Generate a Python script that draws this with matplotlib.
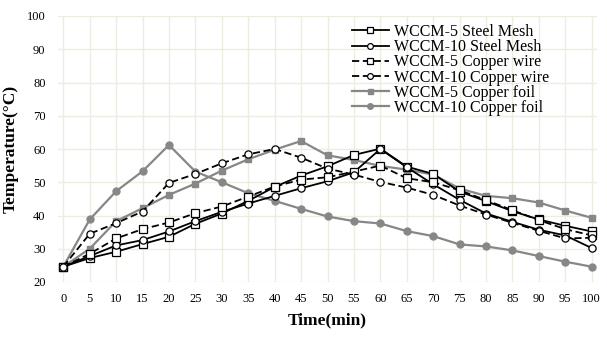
import numpy as np
import matplotlib
matplotlib.use("Agg")
import matplotlib.pyplot as plt

plt.rcParams.update({
    'font.family': 'serif',
    'font.serif': ['Liberation Serif', 'DejaVu Serif'],
    'mathtext.fontset': 'stix',
})

# ---------------- data ----------------
time_min = [0, 5, 10, 15, 20, 25, 30, 35, 40, 45, 50,
            55, 60, 65, 70, 75, 80, 85, 90, 95, 100]

steel_5 = [24.6, 27.2, 29.1, 31.4, 33.6, 37.5, 40.6, 44.4, 48.6, 52.0, 54.8,
           58.2, 60.1, 54.7, 52.5, 47.2, 44.3, 41.3, 38.8, 36.9, 35.2]
steel_10 = [24.6, 27.8, 31.0, 32.6, 35.2, 38.3, 41.1, 43.6, 45.9, 48.2, 50.3,
            53.0, 60.0, 54.5, 49.4, 44.7, 40.6, 38.1, 35.7, 34.0, 30.2]
wire_5 = [24.6, 28.5, 33.1, 35.9, 37.9, 40.7, 42.7, 45.7, 48.7, 50.8, 51.5,
          53.2, 55.0, 51.2, 50.0, 47.6, 44.6, 41.6, 38.6, 35.9, 34.0]
wire_10 = [24.6, 34.5, 37.7, 41.2, 49.8, 52.5, 55.7, 58.4, 60.0, 57.4, 54.1,
           52.3, 50.1, 48.4, 46.2, 43.0, 40.3, 37.8, 35.4, 33.1, 33.3]
foil_5 = [24.6, 30.0, 38.3, 42.2, 46.2, 49.6, 53.5, 56.9, 59.8, 62.4, 58.1,
          56.7, 54.9, 53.8, 52.3, 48.1, 45.9, 45.2, 43.9, 41.5, 39.3]
foil_10 = [24.6, 38.8, 47.3, 53.3, 61.2, 53.2, 50.0, 46.7, 44.4, 42.0, 39.7,
           38.3, 37.6, 35.3, 33.8, 31.3, 30.7, 29.5, 27.8, 26.1, 24.6]

labels = ['WCCM-5 Steel Mesh', 'WCCM-10 Steel Mesh', 'WCCM-5 Copper wire',
          'WCCM-10 Copper wire', 'WCCM-5 Copper foil', 'WCCM-10 Copper foil']

GRAY = '#878787'
GRID = '#ECECE0'

fig = plt.figure(figsize=(6.07, 3.39), dpi=100)
ax = fig.add_axes([58 / 607, 1 - 282 / 339, 539 / 607, 266 / 339])

ax.plot(time_min, steel_5, color='black', lw=1.3, ls='-', marker='s', ms=5.8,
        mfc='white', mec='black', mew=0.9, label=labels[0], zorder=4)
ax.plot(time_min, steel_10, color='black', lw=1.3, ls='-', marker='o', ms=5.2,
        mfc='white', mec='black', mew=0.9, label=labels[1], zorder=4)
ax.plot(time_min, wire_5, color='black', lw=1.3, ls=(0, (4, 2)), marker='s', ms=5.8,
        mfc='white', mec='black', mew=0.9, label=labels[2], zorder=4)
ax.plot(time_min, wire_10, color='black', lw=1.3, ls=(0, (4, 2)), marker='o', ms=5.2,
        mfc='white', mec='black', mew=0.9, label=labels[3], zorder=4)
ax.plot(time_min, foil_5, color=GRAY, lw=1.6, ls='-', marker='s', ms=4.5,
        mfc=GRAY, mec=GRAY, label=labels[4], zorder=3)
ax.plot(time_min, foil_10, color=GRAY, lw=1.6, ls='-', marker='o', ms=5,
        mfc=GRAY, mec=GRAY, label=labels[5], zorder=3)

ax.set_xlim(-1, 101)
ax.set_ylim(20, 100)
ax.set_xticks(time_min)
ax.set_yticks(np.arange(20, 101, 10))
ax.grid(True, color=GRID, lw=1.0, zorder=0)
ax.set_axisbelow(True)
for sp in ax.spines.values():
    sp.set_visible(False)
ax.tick_params(length=0, labelsize=9, pad=8)
ax.tick_params(axis='y', pad=9)

ax.set_xlabel('Time(min)', fontsize=12.5, fontweight='bold', labelpad=5)
ax.set_ylabel('Temperature(°C)', fontsize=12.5, fontweight='bold', labelpad=6)

ax.legend(loc='upper left', bbox_to_anchor=(352 / 607, 1 - 24 / 339),
          bbox_transform=fig.transFigure, frameon=False, fontsize=11.5,
          labelspacing=-0.05, handlelength=2.3, handletextpad=0.3,
          markerscale=0.8, borderpad=0, borderaxespad=0)

fig.savefig('out.png', dpi=100)
